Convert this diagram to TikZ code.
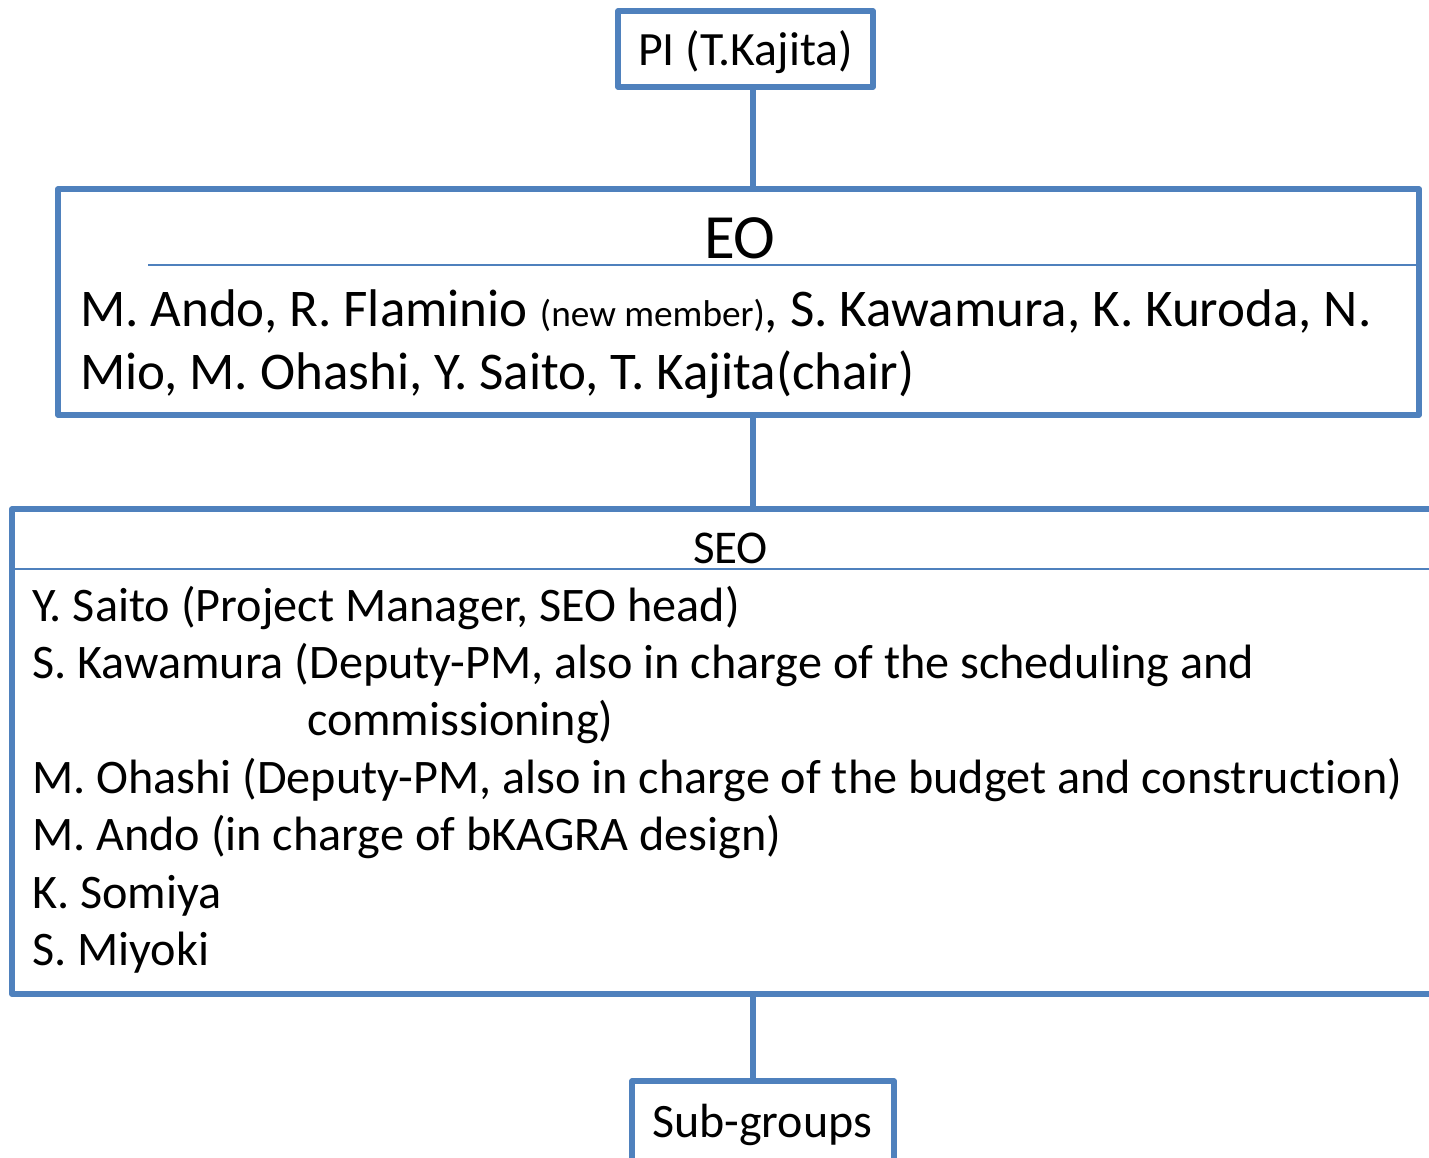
\documentclass[tikz,border=0pt]{standalone}
\usepackage{fontspec}
\setmainfont{Carlito}[Ligatures=NoCommon]
\definecolor{boxblue}{HTML}{4F81BD}
\begin{document}
\begin{tikzpicture}[x=1pt,y=-1pt,
  box/.style={draw=boxblue,line width=5.8pt,line join=round,rectangle,inner sep=0pt,fill=white},
  sepline/.style={draw=boxblue,line width=2pt},
  conn/.style={draw=boxblue,line width=5.8pt},
  txt/.style={anchor=base west,inner sep=0pt,outer sep=0pt,text=black}]
\clip (0,0) rectangle (1429,1157);
\fill[white] (0,0) rectangle (1429,1157);
\coordinate (spine) at (753,0);
% boxes
\node[box,minimum width=255pt,minimum height=76pt] (pi) at (745.5,49) {};
\node[box,minimum width=1361pt,minimum height=226pt] (eo) at (738.5,302) {};
\node[box,minimum width=1440pt,minimum height=485pt] (seo) at (732,751.5) {};
\node[box,minimum width=262pt,minimum height=100pt] (sub) at (763,1131) {};
% connectors
\draw[conn] (pi.south -| spine) -- (eo.north -| spine);
\draw[conn] (eo.south -| spine) -- (seo.north -| spine);
\draw[conn] (seo.south -| spine) -- (sub.north -| spine);
% separators
\coordinate (eosepL) at (148,265);
\coordinate (eosepR) at (1417,265);
\draw[sepline] (eosepL) -- (eosepR);
\coordinate (seosepL) at (14,569);
\coordinate (seosepR) at (1429,569);
\draw[sepline] (seosepL) -- (seosepR);
% texts
\node[txt,font=\fontsize{47.8}{57}\selectfont] (pitxt) at (638,65) {PI (T.Kajita)};
\node[txt,font=\fontsize{63}{76}\selectfont] (eotitle) at (704,258) {EO};
\node[txt,font=\fontsize{53}{64}\selectfont] (eol1) at (80,326) {M. Ando, R. Flaminio {\fontsize{37.3}{44}\selectfont (new member)}, S. Kawamura, K. Kuroda, N.};
\node[txt,font=\fontsize{53}{64}\selectfont] (eol2) at (80,389) {Mio, M. Ohashi, Y. Saito, T. Kajita(chair)};
\node[txt,font=\fontsize{47}{56}\selectfont] (seotitle) at (693,563) {SEO};
\begin{scope}[every node/.style={txt,font=\fontsize{48.2}{57}\selectfont}]
\node (s1) at (32,621) {Y. Saito (Project Manager, SEO head)};
\node (s2) at (32,678) {S. Kawamura (Deputy-PM, also in charge of the scheduling and};
\node (s3) at (307,735) {commissioning)};
\node (s4) at (32,793) {M. Ohashi (Deputy-PM, also in charge of the budget and construction)};
\node (s5) at (32,850) {M. Ando (in charge of bKAGRA design)};
\node (s6) at (32,908) {K. Somiya};
\node (s7) at (32,965) {S. Miyoki};
\end{scope}
\node[txt,font=\fontsize{48}{57}\selectfont] (subtxt) at (652,1137) {Sub-groups};
\end{tikzpicture}
\end{document}
